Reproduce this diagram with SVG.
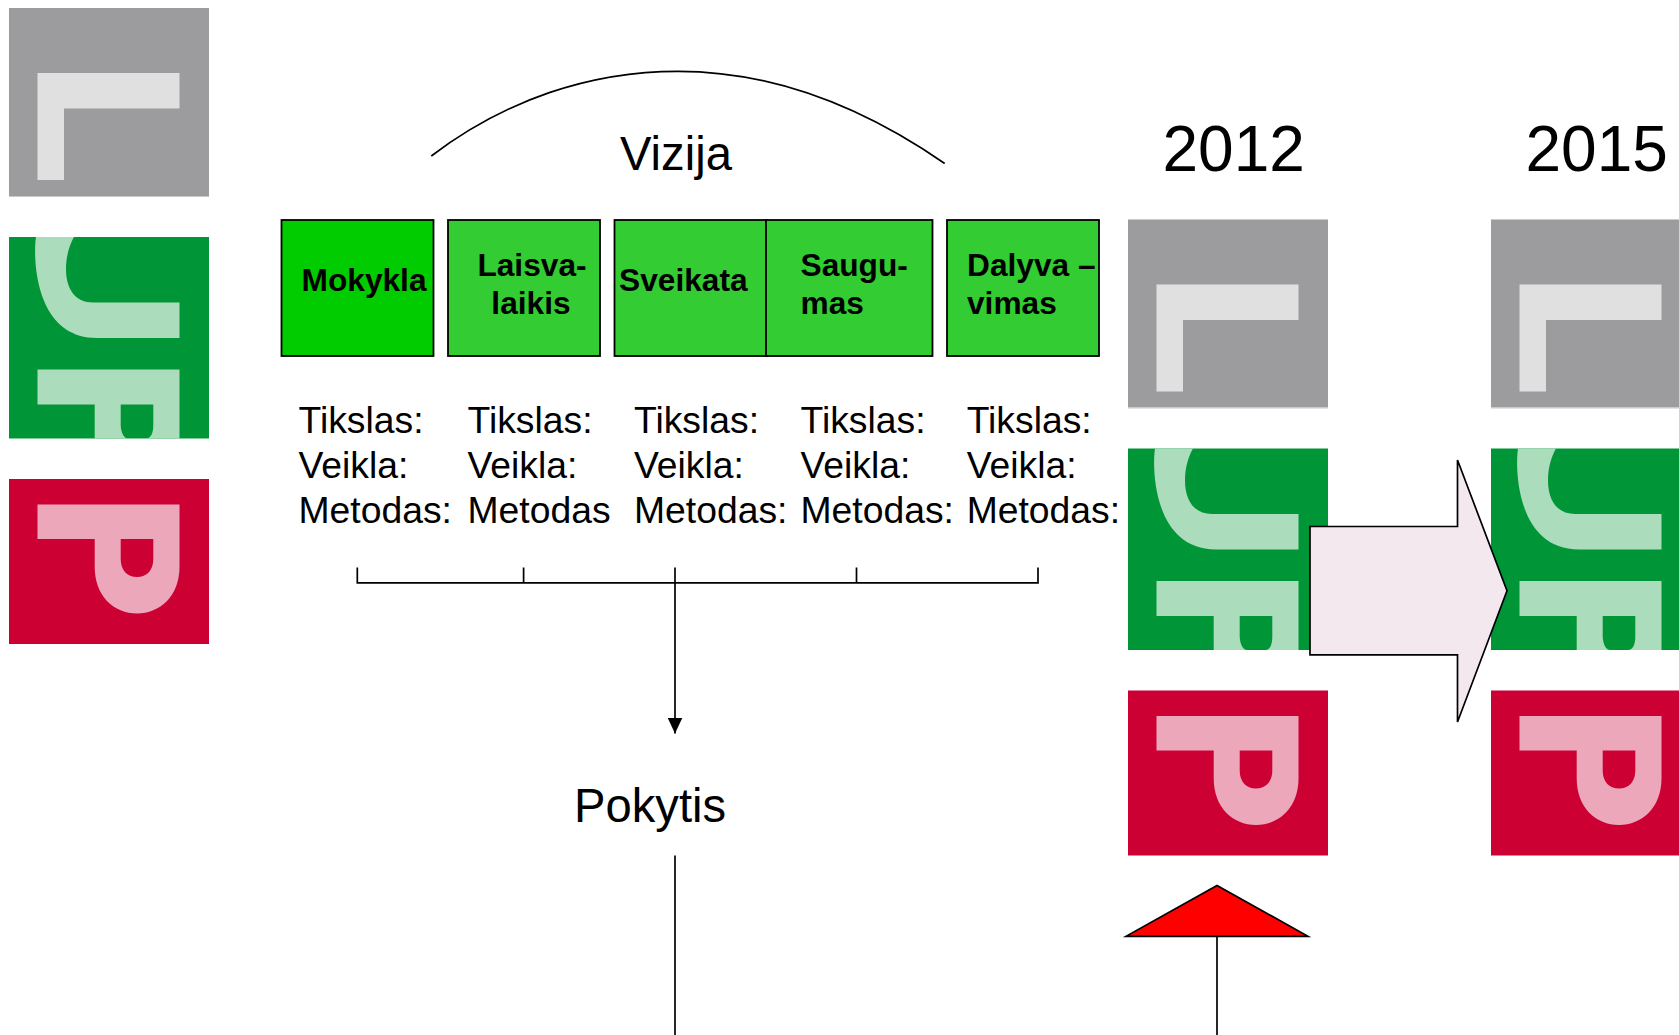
<svg xmlns="http://www.w3.org/2000/svg" width="1679" height="1035" viewBox="0 0 1679 1035">
<style>
text{font-family:"Liberation Sans",Arial,sans-serif;fill:#000}
.b{font-weight:700;font-size:31.7px}
.t{font-size:37.3px}
.v{font-size:47.2px}
.y{font-size:64px}
.box{stroke:#000;stroke-width:1.8}
.ln{fill:none;stroke:#000;stroke-width:1.7}
</style>
<defs>
<marker id="ah" markerUnits="userSpaceOnUse" markerWidth="16" markerHeight="15" refX="16" refY="7.5" orient="auto" viewBox="0 0 16 15"><path d="M0 0L16 7.5L0 15Z" fill="#000"/></marker>
<g id="logo">
<rect x="9" y="8" width="200" height="188" fill="#9c9c9e"/>
<rect x="9" y="196" width="200" height="1" fill="#c8c8ca"/>
<path d="M37.5 73H179.5V108.5H64V180H37.5Z" fill="#e0e0e0"/>
<rect x="9" y="237" width="200" height="201.5" fill="#009637"/>
<path d="M36 237C33 256 34 338 97 338H179.5V302.5H93C76 302.5 66 290 66 269C66 255 70 244 74 237Z" fill="#abdcbb"/>
<path d="M37.5 369.5H179.5V438.5H94.7V404.5H37.5ZM120.7 404.5V425C121 433 124 438.5 128 438.5H146C151 438.5 153.3 433 153.3 425V404.5Z" fill="#abdcbb" fill-rule="evenodd"/>
<rect x="9" y="479" width="200" height="165" fill="#cc0033"/>
<path d="M37.5 504.5H179.5V567C179.5 596 160 613.5 137 613.5C114 613.5 94.7 596 94.7 567V539H37.5ZM120.7 539V559C120.7 570 127 577 137 577C147 577 153.3 570 153.3 559V539Z" fill="#eda7bb" fill-rule="evenodd"/>
</g>
</defs>
<rect width="1679" height="1035" fill="#fff"/>
<g id="logo-left"><use href="#logo"/></g>
<g id="logo-2012"><use href="#logo" x="1119" y="211.5"/></g>
<g id="logo-2015"><use href="#logo" x="1482" y="211.5"/></g>
<g id="vizija"><text class="v" x="620" y="169.5">Vizija</text></g>
<g id="year-2012"><text class="y" x="1162.5" y="171">2012</text></g>
<g id="year-2015"><text class="y" x="1525.5" y="171">2015</text></g>
<g id="mokykla"><rect class="box" x="281.5" y="220" width="152" height="136" fill="#00cc00"/><text class="b" x="301.5" y="291">Mokykla</text></g>
<g id="laisvalaikis"><rect class="box" x="448" y="220" width="152" height="136" fill="#33cc33"/><text class="b" x="532" y="276" text-anchor="middle">Laisva-</text><text class="b" x="531" y="314" text-anchor="middle">laikis</text></g>
<g id="sveikata"><rect class="box" x="614.5" y="220" width="152" height="136" fill="#33cc33"/><text class="b" x="619" y="291">Sveikata</text></g>
<g id="saugumas"><rect class="box" x="766" y="220" width="166.5" height="136" fill="#33cc33"/><text class="b" x="800.5" y="276">Saugu-</text><text class="b" x="800.5" y="314">mas</text></g>
<g id="dalyvavimas"><rect class="box" x="947" y="220" width="152" height="136" fill="#33cc33"/><text class="b" x="967" y="276">Dalyva –</text><text class="b" x="967" y="314">vimas</text></g>
<g id="col1"><text class="t" x="298.5" y="432.6">Tikslas:</text><text class="t" x="298.5" y="477.6">Veikla:</text><text class="t" x="298.5" y="522.6">Metodas:</text></g>
<g id="col2"><text class="t" x="467.5" y="432.6">Tikslas:</text><text class="t" x="467.5" y="477.6">Veikla:</text><text class="t" x="467.5" y="522.6">Metodas</text></g>
<g id="col3"><text class="t" x="634" y="432.6">Tikslas:</text><text class="t" x="634" y="477.6">Veikla:</text><text class="t" x="634" y="522.6">Metodas:</text></g>
<g id="col4"><text class="t" x="800.5" y="432.6">Tikslas:</text><text class="t" x="800.5" y="477.6">Veikla:</text><text class="t" x="800.5" y="522.6">Metodas:</text></g>
<g id="col5"><text class="t" x="966.7" y="432.6">Tikslas:</text><text class="t" x="966.7" y="477.6">Veikla:</text><text class="t" x="966.7" y="522.6">Metodas:</text></g>
<g id="pokytis"><text class="v" x="574" y="822">Pokytis</text></g>
<g id="block-arrow"><path d="M1310 526.5H1457.5V460L1507 590.8L1457.5 722V654.8H1310Z" fill="#f3e8ee" stroke="#000" stroke-width="1.7"/></g>
<g id="red-triangle"><path d="M1217 885.5L1308 936.3H1126Z" fill="#ff0000" stroke="#000" stroke-width="1.7"/></g>
<g id="connectors">
<path class="ln" d="M431.3 156C505 100 590 71.3 678 71.3C770 71.3 860 105 944.7 163.5"/>
<path class="ln" d="M357.3 567.5V582.8H1038V567.5M523.6 567.5V582.8M856.5 567.5V582.8"/>
<path class="ln" d="M675 567.5V733.5" marker-end="url(#ah)"/>
<path class="ln" d="M675 855.5V1035"/>
<path class="ln" d="M1217 936.3V1035"/>
</g>
</svg>
